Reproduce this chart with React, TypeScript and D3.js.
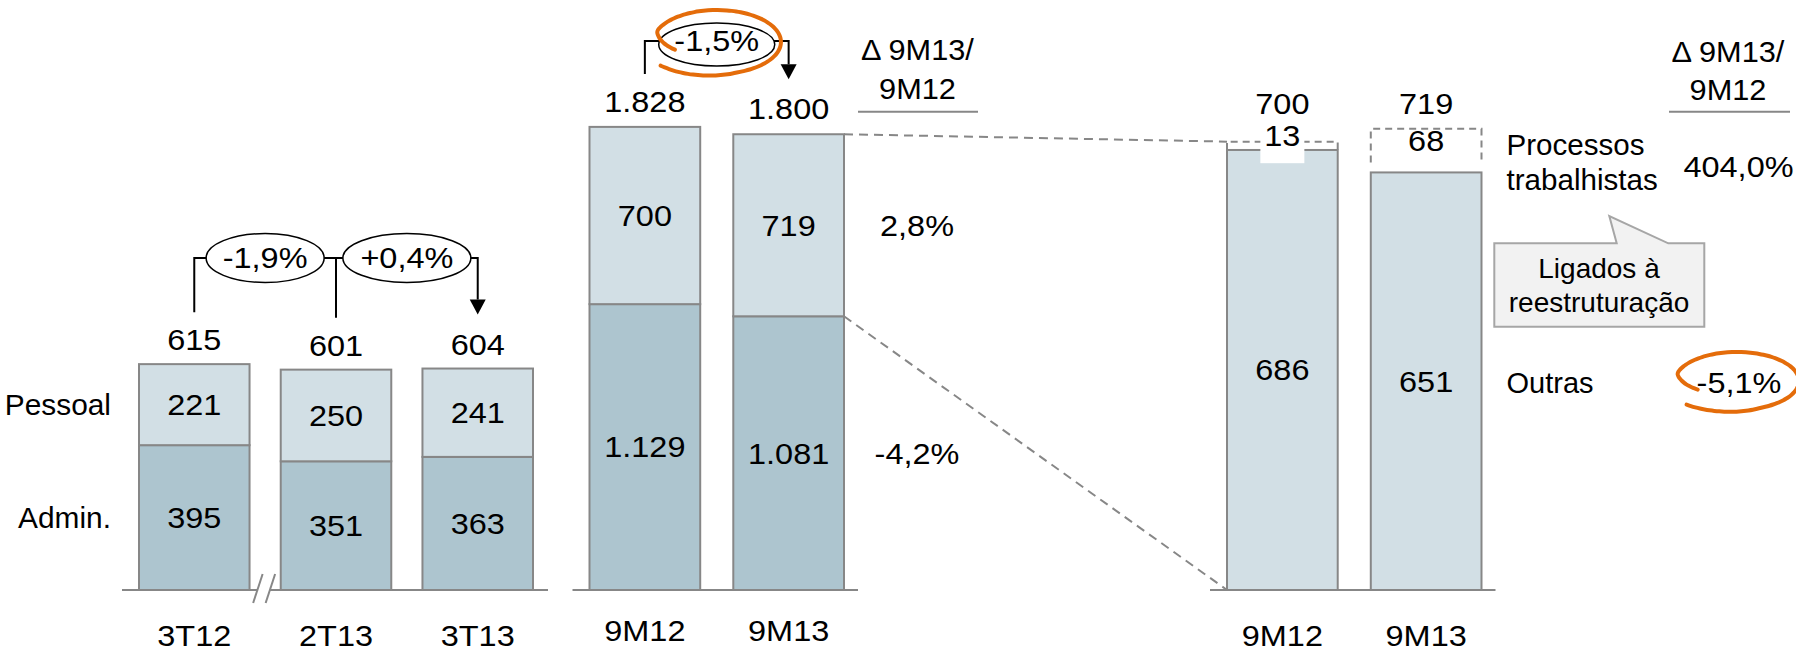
import React from "react";
import * as d3 from "d3";

// Quarterly administrative expenses (R$ milhões)
const quarters = ["3T12", "2T13", "3T13"];
const quarterAdmin = [395, 351, 363];
const quarterPessoal = [221, 250, 241];
const quarterTotals = [615, 601, 604];
const quarterChanges = ["-1,9%", "+0,4%"];

// Nine-month totals
const periods = ["9M12", "9M13"];
const periodAdmin = [1129, 1081];
const periodPessoal = [700, 719];
const periodTotals = [1828, 1800];
const periodChange = "-1,5%";
const periodDeltas = ["2,8%", "-4,2%"]; // Pessoal, Admin.

// Breakdown of personnel expenses
const pessoalOutras = [686, 651];
const pessoalProcessos = [13, 68];
const pessoalTotals = [700, 719];
const pessoalDeltas = ["404,0%", "-5,1%"]; // Processos trabalhistas, Outras

const seriesNames = ["Pessoal", "Admin."];
const deltaHeader = ["\u0394 9M13/", "9M12"];
const breakdownNames = ["Processos", "trabalhistas", "Outras"];
const calloutLines = ["Ligados à", "reestruturação"];

const W = 1796;
const H = 653;
const BASE = 590;
const FS = 29;
const CAP = 0.358 * FS;
const NUM_SX = 1.12;
const LIGHT = "#D2DFE5";
const DARK = "#ADC5CF";
const EDGE = "#878787";
const ORANGE = "#E46C0A";
const FONT = "'Liberation Sans', Arial, Helvetica, sans-serif";

const fmt = d3
  .formatLocale({ decimal: ",", thousands: ".", grouping: [3], currency: ["", ""] })
  .format(",d");

function T({ x, y, text, anchor = "middle", sx = NUM_SX, size = FS }: any) {
  return (
    <text transform={`translate(${x},${y}) scale(${sx},1)`} textAnchor={anchor} fontSize={size}>
      {text}
    </text>
  );
}

// hand-drawn style highlight loop around a figure
function loopPath(cx: number, cy: number, rx: number, ry: number, a0: number, a1: number) {
  const pts = d3.range(0, 81).map((i) => {
    const deg = a0 + ((a1 - a0) * i) / 80;
    let k = 1;
    if (deg < a0 + 40) k = 0.7 + (0.3 * (deg - a0)) / 40;
    else if (deg > a1 - 70) k = 1 + (0.15 * (deg - (a1 - 70))) / 70;
    const a = (deg * Math.PI) / 180;
    return [cx + rx * k * Math.cos(a), cy + ry * k * Math.sin(a)] as [number, number];
  });
  return d3.line().curve(d3.curveBasis)(pts) as string;
}

function Bracket({ xs, tops, y, rxs, cyOff, labels }: any) {
  // xs: bar centres, tops: total-label baselines
  const last = xs.length - 1;
  const tip = tops[last] - 40;
  const d = `M${xs[0]},${tops[0] - 38} V${y} H${xs[last]} V${tip - 15}`;
  return (
    <g>
      <path d={d} fill="none" stroke="#000" strokeWidth={2} />
      {xs.slice(1, last).map((x: number, i: number) => (
        <line key={i} x1={x} x2={x} y1={y} y2={tops[i + 1] - 38} stroke="#000" strokeWidth={2} />
      ))}
      <path d={`M${xs[last] - 8},${tip - 15} L${xs[last] + 8},${tip - 15} L${xs[last]},${tip} Z`} fill="#000" />
      {labels.map((lab: string, i: number) => {
        const cx = (xs[i] + xs[i + 1]) / 2;
        return (
          <g key={lab}>
            <ellipse cx={cx} cy={y + cyOff} rx={rxs[i]} ry={cyOff ? 21.5 : 24.5} fill="#fff" stroke="#000" strokeWidth={1.5} />
            <T x={cx} y={y + CAP} text={lab} />
          </g>
        );
      })}
    </g>
  );
}

export default function App() {
  // ---- quarterly panel
  const xQ = d3.scaleBand<string>().domain(quarters).range([139, 533]).paddingInner(0.22);
  const yQ = d3.scaleLinear().domain([0, 600]).range([BASE, BASE - 220]);
  const bwQ = xQ.bandwidth();
  const qRows = quarters.map((q, i) => ({ key: q, admin: quarterAdmin[i], pessoal: quarterPessoal[i] }));
  const qStack = d3.stack<any>().keys(["admin", "pessoal"])(qRows);
  const qCx = quarters.map((q) => (xQ(q) as number) + bwQ / 2);
  const qTop = qRows.map((r) => yQ(r.admin + r.pessoal) - 14);

  // ---- nine-month panel
  const xP = d3.scaleBand<string>().domain(periods).range([589.5, 844]).paddingInner(0.23);
  const yP = d3.scaleLinear().domain([0, 2000]).range([BASE, BASE - 506.4]);
  const bwP = xP.bandwidth();
  const pRows = periods.map((p, i) => ({ key: p, admin: periodAdmin[i], pessoal: periodPessoal[i] }));
  const pStack = d3.stack<any>().keys(["admin", "pessoal"])(pRows);
  const pCx = periods.map((p) => (xP(p) as number) + bwP / 2);
  const pTop = pRows.map((r) => yP(r.admin + r.pessoal) - 15);

  // ---- personnel breakdown panel
  const xR = d3.scaleBand<string>().domain(periods).range([1227, 1481.5]).paddingInner(0.23);
  const yR = d3.scaleLinear().domain([0, 700]).range([BASE, BASE - 449]);
  const bwR = xR.bandwidth();

  const colors: any = { admin: DARK, pessoal: LIGHT };

  const stackBars = (stack: any, x: any, y: any, bw: number) =>
    stack.map((layer: any) =>
      layer.map((d: any) => {
        const y0 = y(d[1]);
        const y1 = y(d[0]);
        return (
          <g key={layer.key + d.data.key}>
            <rect x={x(d.data.key)} y={y0} width={bw} height={y1 - y0} fill={colors[layer.key]} stroke={EDGE} strokeWidth={2} />
            <T x={(x(d.data.key) as number) + bw / 2} y={(y0 + y1) / 2 + CAP} text={fmt(d.data[layer.key])} />
          </g>
        );
      })
    );

  const gapX = ((xQ(quarters[0]) as number) + bwQ + (xQ(quarters[1]) as number)) / 2 - 1;
  const midRight = (xP(periods[1]) as number) + bwP;

  return (
    <svg width={W} height={H} style={{ position: "absolute", left: 0, top: 0, background: "#fff" }} fontFamily={FONT}>
      {/* quarterly */}
      <line x1={xQ.range()[0] - 17} x2={xQ.range()[1] + 15} y1={BASE} y2={BASE} stroke={EDGE} strokeWidth={2} />
      {stackBars(qStack, xQ, yQ, bwQ)}
      <polygon
        points={`${gapX - 11},${BASE + 13} ${gapX - 1.5},${BASE - 16} ${gapX + 11},${BASE - 16} ${gapX + 1.5},${BASE + 13}`}
        fill="#fff"
      />
      <line x1={gapX - 11} y1={BASE + 13} x2={gapX - 1.5} y2={BASE - 16} stroke={EDGE} strokeWidth={2} />
      <line x1={gapX + 1.5} y1={BASE + 13} x2={gapX + 11} y2={BASE - 16} stroke={EDGE} strokeWidth={2} />
      {quarters.map((q, i) => (
        <g key={q}>
          <T x={qCx[i]} y={qTop[i]} text={fmt(quarterTotals[i])} />
          <T x={qCx[i]} y={646} text={q} />
        </g>
      ))}
      {seriesNames.map((s, i) => {
        const layer = qStack[1 - i][0];
        return <T key={s} x={111} y={(yQ(layer[0]) + yQ(layer[1])) / 2 + CAP} text={s} anchor="end" sx={1.03} />;
      })}
      <Bracket xs={qCx} tops={qTop} y={258} rxs={[59, 64]} cyOff={0} labels={quarterChanges} />

      {/* nine months */}
      <line x1={xP.range()[0] - 17} x2={xP.range()[1] + 14} y1={BASE} y2={BASE} stroke={EDGE} strokeWidth={2} />
      {stackBars(pStack, xP, yP, bwP)}
      {periods.map((p, i) => (
        <g key={p}>
          <T x={pCx[i]} y={pTop[i]} text={fmt(periodTotals[i])} />
          <T x={pCx[i]} y={641} text={p} />
        </g>
      ))}
      <Bracket xs={pCx} tops={pTop} y={41} rxs={[58]} cyOff={3.5} labels={[periodChange]} />
      <path d={loopPath(717, 42, 64, 32, 160, 500)} fill="none" stroke={ORANGE} strokeWidth={4} strokeLinecap="round" />
      <T x={917.5} y={60} text={deltaHeader[0]} sx={1.06} />
      <T x={917.5} y={99} text={deltaHeader[1]} sx={1.06} />
      <line x1={858} x2={978} y1={111.7} y2={111.7} stroke={EDGE} strokeWidth={2} />
      {periodDeltas.map((d, i) => {
        const key = i === 0 ? "pessoal" : "admin";
        const seg = pStack.find((l: any) => l.key === key)![1];
        return <T key={d} x={917} y={(yP(seg[0]) + yP(seg[1])) / 2 + CAP} text={d} />;
      })}

      {/* connectors */}
      <g stroke={EDGE} strokeWidth={2} strokeDasharray="9 6" fill="none">
        <line x1={midRight} y1={yP(periodTotals[1])} x2={xR(periods[0])} y2={yR(pessoalOutras[0] + pessoalProcessos[0])} />
        <line x1={midRight} y1={yP(periodAdmin[1])} x2={xR(periods[0])} y2={BASE} />
      </g>

      {/* personnel breakdown */}
      <line x1={xR.range()[0] - 17} x2={xR.range()[1] + 14} y1={BASE} y2={BASE} stroke={EDGE} strokeWidth={2} />
      {periods.map((p, i) => {
        const x = xR(p) as number;
        const yo = yR(pessoalOutras[i]);
        const yt = yR(pessoalOutras[i] + pessoalProcessos[i]);
        const small = yo - yt < 20;
        const yb = small ? yo : yo - 10;
        const labY = (yt + yo) / 2 + CAP - 10;
        const totY = Math.min(yR(pessoalTotals[i]) - 15, labY - 32);
        return (
          <g key={p}>
            <rect x={x} y={yo} width={bwR} height={BASE - yo} fill={LIGHT} stroke={EDGE} strokeWidth={2} />
            <T x={x + bwR / 2} y={(yo + BASE) / 2 + CAP} text={fmt(pessoalOutras[i])} />
            <path d={`M${x},${yb} V${yt} H${x + bwR} V${yb}`} fill="none" stroke={EDGE} strokeWidth={2} strokeDasharray="7 5" />
            {small && <rect x={x + bwR / 2 - 22} y={labY - 8} width={44} height={25} fill="#fff" />}
            <T x={x + bwR / 2} y={labY} text={fmt(pessoalProcessos[i])} />
            <T x={x + bwR / 2} y={totY} text={fmt(pessoalTotals[i])} />
            <T x={x + bwR / 2} y={646} text={p} />
          </g>
        );
      })}
      <T x={1506.5} y={155} text={breakdownNames[0]} anchor="start" sx={1.02} />
      <T x={1506.5} y={190} text={breakdownNames[1]} anchor="start" sx={1.02} />
      <T x={1506.5} y={393} text={breakdownNames[2]} anchor="start" sx={1} />
      <T x={1738.5} y={176.7} text={pessoalDeltas[0]} />
      <T x={1739} y={393} text={pessoalDeltas[1]} />
      <path d={loopPath(1737, 381, 62, 29, 155, 495)} fill="none" stroke={ORANGE} strokeWidth={4} strokeLinecap="round" />
      <T x={1728} y={61.7} text={deltaHeader[0]} sx={1.06} />
      <T x={1728} y={100} text={deltaHeader[1]} sx={1.06} />
      <line x1={1669} x2={1790} y1={111.7} y2={111.7} stroke={EDGE} strokeWidth={2} />

      {/* callout */}
      <path
        d="M1494.3,243.3 H1616.7 L1609.3,216 L1668.3,243.3 H1704.3 V326.7 H1494.3 Z"
        fill="#F2F2F2"
        stroke="#A6A6A6"
        strokeWidth={2}
      />
      <T x={1599} y={278.3} text={calloutLines[0]} sx={1} size={28} />
      <T x={1599} y={311.7} text={calloutLines[1]} sx={1} size={28} />
    </svg>
  );
}
